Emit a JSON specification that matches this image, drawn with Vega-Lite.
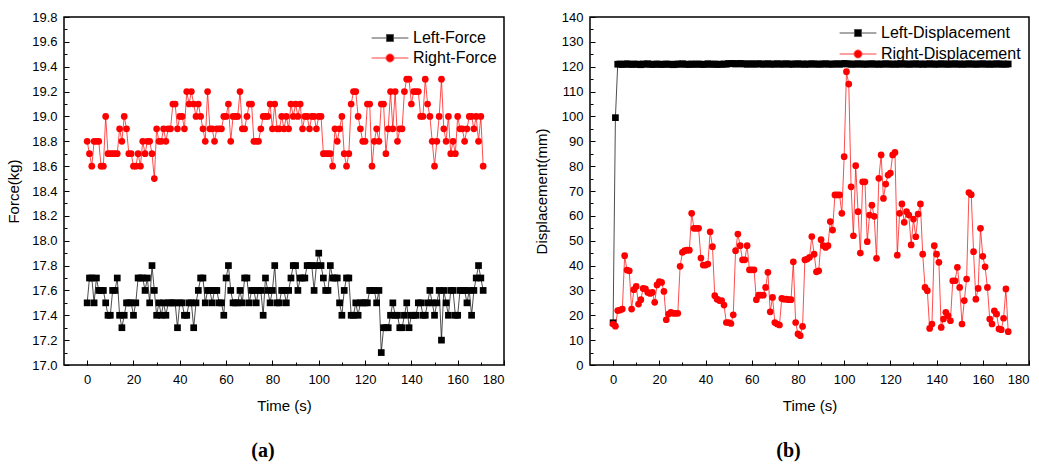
{
"$schema": "https://vega.github.io/schema/vega-lite/v6.json",
"padding": {"left": 5, "top": 10, "right": 0, "bottom": 0},
"background": "white",
"config": {"font": "Liberation Sans", "view": {"stroke": "black", "strokeWidth": 1.5},
  "axis": {"grid": false, "domain": false, "tickColor": "black", "tickWidth": 1, "labelColor": "black", "labelFontSize": 13, "labelFont": "Liberation Sans", "titleFont": "Liberation Sans", "titleFontSize": 15, "titleFontWeight": "normal", "titleColor": "black"}},
"resolve": {"scale": {"color": "independent", "shape": "independent", "stroke": "independent"}, "legend": {"color": "independent", "shape": "independent", "stroke": "independent"}},
"datasets": {
"force": [
{"t":0,"Left-Force":17.5,"Right-Force":18.8},{"t":1,"Left-Force":17.7,"Right-Force":18.7},{"t":2,"Left-Force":17.7,"Right-Force":18.6},{"t":3,"Left-Force":17.5,"Right-Force":18.8},{"t":4,"Left-Force":17.7,"Right-Force":18.8},{"t":5,"Left-Force":17.6,"Right-Force":18.8},{"t":6,"Left-Force":17.6,"Right-Force":18.6},{"t":7,"Left-Force":17.6,"Right-Force":18.6},{"t":8,"Left-Force":17.5,"Right-Force":19.0},{"t":9,"Left-Force":17.4,"Right-Force":18.7},
{"t":10,"Left-Force":17.4,"Right-Force":18.7},{"t":11,"Left-Force":17.6,"Right-Force":18.7},{"t":12,"Left-Force":17.6,"Right-Force":18.7},{"t":13,"Left-Force":17.7,"Right-Force":18.7},{"t":14,"Left-Force":17.4,"Right-Force":18.9},{"t":15,"Left-Force":17.3,"Right-Force":18.8},{"t":16,"Left-Force":17.4,"Right-Force":19.0},{"t":17,"Left-Force":17.5,"Right-Force":18.9},{"t":18,"Left-Force":17.5,"Right-Force":18.7},{"t":19,"Left-Force":17.5,"Right-Force":18.7},
{"t":20,"Left-Force":17.4,"Right-Force":18.6},{"t":21,"Left-Force":17.5,"Right-Force":18.6},{"t":22,"Left-Force":17.7,"Right-Force":18.7},{"t":23,"Left-Force":17.7,"Right-Force":18.6},{"t":24,"Left-Force":17.7,"Right-Force":18.8},{"t":25,"Left-Force":17.6,"Right-Force":18.7},{"t":26,"Left-Force":17.7,"Right-Force":18.8},{"t":27,"Left-Force":17.5,"Right-Force":18.8},{"t":28,"Left-Force":17.8,"Right-Force":18.7},{"t":29,"Left-Force":17.6,"Right-Force":18.5},
{"t":30,"Left-Force":17.4,"Right-Force":18.9},{"t":31,"Left-Force":17.5,"Right-Force":18.8},{"t":32,"Left-Force":17.4,"Right-Force":18.8},{"t":33,"Left-Force":17.5,"Right-Force":18.9},{"t":34,"Left-Force":17.4,"Right-Force":18.8},{"t":35,"Left-Force":17.5,"Right-Force":18.9},{"t":36,"Left-Force":17.5,"Right-Force":18.9},{"t":37,"Left-Force":17.5,"Right-Force":19.1},{"t":38,"Left-Force":17.5,"Right-Force":19.1},{"t":39,"Left-Force":17.3,"Right-Force":18.9},
{"t":40,"Left-Force":17.5,"Right-Force":19.0},{"t":41,"Left-Force":17.5,"Right-Force":19.0},{"t":42,"Left-Force":17.4,"Right-Force":18.9},{"t":43,"Left-Force":17.4,"Right-Force":19.2},{"t":44,"Left-Force":17.5,"Right-Force":19.1},{"t":45,"Left-Force":17.5,"Right-Force":19.2},{"t":46,"Left-Force":17.3,"Right-Force":19.1},{"t":47,"Left-Force":17.5,"Right-Force":19.0},{"t":48,"Left-Force":17.6,"Right-Force":19.1},{"t":49,"Left-Force":17.7,"Right-Force":19.0},
{"t":50,"Left-Force":17.7,"Right-Force":18.9},{"t":51,"Left-Force":17.5,"Right-Force":18.8},{"t":52,"Left-Force":17.6,"Right-Force":19.2},{"t":53,"Left-Force":17.6,"Right-Force":18.9},{"t":54,"Left-Force":17.5,"Right-Force":18.9},{"t":55,"Left-Force":17.6,"Right-Force":18.8},{"t":56,"Left-Force":17.6,"Right-Force":18.9},{"t":57,"Left-Force":17.5,"Right-Force":18.9},{"t":58,"Left-Force":17.5,"Right-Force":18.9},{"t":59,"Left-Force":17.4,"Right-Force":19.0},
{"t":60,"Left-Force":17.7,"Right-Force":19.0},{"t":61,"Left-Force":17.8,"Right-Force":19.1},{"t":62,"Left-Force":17.6,"Right-Force":18.8},{"t":63,"Left-Force":17.5,"Right-Force":19.0},{"t":64,"Left-Force":17.5,"Right-Force":19.0},{"t":65,"Left-Force":17.5,"Right-Force":19.0},{"t":66,"Left-Force":17.6,"Right-Force":19.2},{"t":67,"Left-Force":17.5,"Right-Force":18.9},{"t":68,"Left-Force":17.7,"Right-Force":18.9},{"t":69,"Left-Force":17.7,"Right-Force":19.0},
{"t":70,"Left-Force":17.5,"Right-Force":19.1},{"t":71,"Left-Force":17.6,"Right-Force":19.1},{"t":72,"Left-Force":17.6,"Right-Force":18.8},{"t":73,"Left-Force":17.5,"Right-Force":18.8},{"t":74,"Left-Force":17.6,"Right-Force":18.8},{"t":75,"Left-Force":17.6,"Right-Force":18.9},{"t":76,"Left-Force":17.4,"Right-Force":19.0},{"t":77,"Left-Force":17.7,"Right-Force":19.0},{"t":78,"Left-Force":17.6,"Right-Force":19.0},{"t":79,"Left-Force":17.5,"Right-Force":19.1},
{"t":80,"Left-Force":17.6,"Right-Force":18.9},{"t":81,"Left-Force":17.8,"Right-Force":19.1},{"t":82,"Left-Force":17.5,"Right-Force":18.9},{"t":83,"Left-Force":17.5,"Right-Force":18.9},{"t":84,"Left-Force":17.6,"Right-Force":19.0},{"t":85,"Left-Force":17.6,"Right-Force":18.9},{"t":86,"Left-Force":17.5,"Right-Force":19.0},{"t":87,"Left-Force":17.6,"Right-Force":18.9},{"t":88,"Left-Force":17.7,"Right-Force":19.1},{"t":89,"Left-Force":17.8,"Right-Force":19.0},
{"t":90,"Left-Force":17.8,"Right-Force":19.1},{"t":91,"Left-Force":17.6,"Right-Force":19.0},{"t":92,"Left-Force":17.7,"Right-Force":19.1},{"t":93,"Left-Force":17.7,"Right-Force":18.9},{"t":94,"Left-Force":17.7,"Right-Force":19.0},{"t":95,"Left-Force":17.8,"Right-Force":19.0},{"t":96,"Left-Force":17.8,"Right-Force":18.9},{"t":97,"Left-Force":17.8,"Right-Force":19.0},{"t":98,"Left-Force":17.6,"Right-Force":19.0},{"t":99,"Left-Force":17.8,"Right-Force":18.9},
{"t":100,"Left-Force":17.9,"Right-Force":19.0},{"t":101,"Left-Force":17.8,"Right-Force":19.0},{"t":102,"Left-Force":17.7,"Right-Force":18.7},{"t":103,"Left-Force":17.6,"Right-Force":18.7},{"t":104,"Left-Force":17.6,"Right-Force":18.7},{"t":105,"Left-Force":17.8,"Right-Force":18.7},{"t":106,"Left-Force":17.7,"Right-Force":18.6},{"t":107,"Left-Force":17.7,"Right-Force":18.9},{"t":108,"Left-Force":17.7,"Right-Force":18.8},{"t":109,"Left-Force":17.5,"Right-Force":18.9},
{"t":110,"Left-Force":17.4,"Right-Force":19.0},{"t":111,"Left-Force":17.6,"Right-Force":18.7},{"t":112,"Left-Force":17.7,"Right-Force":18.6},{"t":113,"Left-Force":17.7,"Right-Force":18.7},{"t":114,"Left-Force":17.4,"Right-Force":19.1},{"t":115,"Left-Force":17.4,"Right-Force":19.2},{"t":116,"Left-Force":17.5,"Right-Force":19.2},{"t":117,"Left-Force":17.4,"Right-Force":19.0},{"t":118,"Left-Force":17.5,"Right-Force":18.9},{"t":119,"Left-Force":17.5,"Right-Force":18.8},
{"t":120,"Left-Force":17.5,"Right-Force":18.8},{"t":121,"Left-Force":17.5,"Right-Force":19.1},{"t":122,"Left-Force":17.6,"Right-Force":19.1},{"t":123,"Left-Force":17.6,"Right-Force":18.6},{"t":124,"Left-Force":17.6,"Right-Force":18.8},{"t":125,"Left-Force":17.5,"Right-Force":18.9},{"t":126,"Left-Force":17.6,"Right-Force":18.8},{"t":127,"Left-Force":17.1,"Right-Force":19.1},{"t":128,"Left-Force":17.3,"Right-Force":19.1},{"t":129,"Left-Force":17.3,"Right-Force":18.7},
{"t":130,"Left-Force":17.3,"Right-Force":18.9},{"t":131,"Left-Force":17.4,"Right-Force":19.2},{"t":132,"Left-Force":17.5,"Right-Force":18.9},{"t":133,"Left-Force":17.4,"Right-Force":19.2},{"t":134,"Left-Force":17.4,"Right-Force":18.8},{"t":135,"Left-Force":17.3,"Right-Force":18.9},{"t":136,"Left-Force":17.3,"Right-Force":18.9},{"t":137,"Left-Force":17.4,"Right-Force":19.2},{"t":138,"Left-Force":17.5,"Right-Force":19.3},{"t":139,"Left-Force":17.3,"Right-Force":19.3},
{"t":140,"Left-Force":17.4,"Right-Force":19.1},{"t":141,"Left-Force":17.4,"Right-Force":19.2},{"t":142,"Left-Force":17.4,"Right-Force":19.2},{"t":143,"Left-Force":17.5,"Right-Force":19.2},{"t":144,"Left-Force":17.5,"Right-Force":19.0},{"t":145,"Left-Force":17.4,"Right-Force":19.0},{"t":146,"Left-Force":17.4,"Right-Force":19.3},{"t":147,"Left-Force":17.5,"Right-Force":19.1},{"t":148,"Left-Force":17.6,"Right-Force":19.0},{"t":149,"Left-Force":17.5,"Right-Force":18.8},
{"t":150,"Left-Force":17.4,"Right-Force":18.6},{"t":151,"Left-Force":17.5,"Right-Force":18.8},{"t":152,"Left-Force":17.6,"Right-Force":19.0},{"t":153,"Left-Force":17.2,"Right-Force":19.3},{"t":154,"Left-Force":17.6,"Right-Force":18.9},{"t":155,"Left-Force":17.5,"Right-Force":18.8},{"t":156,"Left-Force":17.4,"Right-Force":19.0},{"t":157,"Left-Force":17.6,"Right-Force":18.7},{"t":158,"Left-Force":17.6,"Right-Force":18.8},{"t":159,"Left-Force":17.4,"Right-Force":18.7},
{"t":160,"Left-Force":17.4,"Right-Force":19.0},{"t":161,"Left-Force":17.6,"Right-Force":18.9},{"t":162,"Left-Force":17.6,"Right-Force":18.9},{"t":163,"Left-Force":17.6,"Right-Force":18.8},{"t":164,"Left-Force":17.5,"Right-Force":18.9},{"t":165,"Left-Force":17.6,"Right-Force":19.0},{"t":166,"Left-Force":17.4,"Right-Force":19.0},{"t":167,"Left-Force":17.6,"Right-Force":18.9},{"t":168,"Left-Force":17.7,"Right-Force":19.0},{"t":169,"Left-Force":17.8,"Right-Force":18.8},
{"t":170,"Left-Force":17.7,"Right-Force":19.0},{"t":171,"Left-Force":17.6,"Right-Force":18.6}
],
"disp": [
{"t":0,"Left-Displacement":17.0,"Right-Displacement":16.5},{"t":1,"Left-Displacement":99.5,"Right-Displacement":15.6},{"t":2,"Left-Displacement":121.0,"Right-Displacement":21.9},{"t":3,"Left-Displacement":121.1,"Right-Displacement":22.1},{"t":4,"Left-Displacement":120.9,"Right-Displacement":22.5},{"t":5,"Left-Displacement":121.0,"Right-Displacement":44.0},{"t":6,"Left-Displacement":121.2,"Right-Displacement":38.2},{"t":7,"Left-Displacement":121.0,"Right-Displacement":37.9},{"t":8,"Left-Displacement":120.9,"Right-Displacement":22.5},{"t":9,"Left-Displacement":121.1,"Right-Displacement":30.3},
{"t":10,"Left-Displacement":121.0,"Right-Displacement":31.6},{"t":11,"Left-Displacement":121.0,"Right-Displacement":24.5},{"t":12,"Left-Displacement":120.8,"Right-Displacement":26.3},{"t":13,"Left-Displacement":121.1,"Right-Displacement":30.8},{"t":14,"Left-Displacement":121.0,"Right-Displacement":30.6},{"t":15,"Left-Displacement":121.2,"Right-Displacement":29.2},{"t":16,"Left-Displacement":121.0,"Right-Displacement":28.8},{"t":17,"Left-Displacement":120.9,"Right-Displacement":29.2},{"t":18,"Left-Displacement":121.0,"Right-Displacement":25.2},{"t":19,"Left-Displacement":121.1,"Right-Displacement":32.2},
{"t":20,"Left-Displacement":121.0,"Right-Displacement":33.5},{"t":21,"Left-Displacement":120.9,"Right-Displacement":33.2},{"t":22,"Left-Displacement":121.0,"Right-Displacement":29.6},{"t":23,"Left-Displacement":121.1,"Right-Displacement":18.2},{"t":24,"Left-Displacement":121.0,"Right-Displacement":20.5},{"t":25,"Left-Displacement":121.0,"Right-Displacement":21.2},{"t":26,"Left-Displacement":120.8,"Right-Displacement":20.8},{"t":27,"Left-Displacement":121.0,"Right-Displacement":20.8},{"t":28,"Left-Displacement":121.1,"Right-Displacement":20.8},{"t":29,"Left-Displacement":121.0,"Right-Displacement":39.7},
{"t":30,"Left-Displacement":121.2,"Right-Displacement":45.3},{"t":31,"Left-Displacement":121.0,"Right-Displacement":46.0},{"t":32,"Left-Displacement":121.0,"Right-Displacement":46.2},{"t":33,"Left-Displacement":120.9,"Right-Displacement":46.2},{"t":34,"Left-Displacement":121.1,"Right-Displacement":61.0},{"t":35,"Left-Displacement":121.0,"Right-Displacement":55.0},{"t":36,"Left-Displacement":121.0,"Right-Displacement":55.0},{"t":37,"Left-Displacement":121.1,"Right-Displacement":55.0},{"t":38,"Left-Displacement":121.0,"Right-Displacement":43.0},{"t":39,"Left-Displacement":120.9,"Right-Displacement":40.2},
{"t":40,"Left-Displacement":121.0,"Right-Displacement":40.2},{"t":41,"Left-Displacement":121.2,"Right-Displacement":40.6},{"t":42,"Left-Displacement":121.0,"Right-Displacement":53.6},{"t":43,"Left-Displacement":121.0,"Right-Displacement":47.6},{"t":44,"Left-Displacement":121.1,"Right-Displacement":27.9},{"t":45,"Left-Displacement":120.9,"Right-Displacement":26.5},{"t":46,"Left-Displacement":121.0,"Right-Displacement":25.9},{"t":47,"Left-Displacement":121.0,"Right-Displacement":25.9},{"t":48,"Left-Displacement":121.1,"Right-Displacement":24.1},{"t":49,"Left-Displacement":121.0,"Right-Displacement":17.1},
{"t":50,"Left-Displacement":121.3,"Right-Displacement":17.1},{"t":51,"Left-Displacement":121.2,"Right-Displacement":16.7},{"t":52,"Left-Displacement":121.3,"Right-Displacement":20.2},{"t":53,"Left-Displacement":121.1,"Right-Displacement":46.0},{"t":54,"Left-Displacement":121.2,"Right-Displacement":52.7},{"t":55,"Left-Displacement":121.3,"Right-Displacement":48.0},{"t":56,"Left-Displacement":121.1,"Right-Displacement":42.3},{"t":57,"Left-Displacement":121.2,"Right-Displacement":42.3},{"t":58,"Left-Displacement":121.0,"Right-Displacement":48.0},{"t":59,"Left-Displacement":121.1,"Right-Displacement":38.3},
{"t":60,"Left-Displacement":121.2,"Right-Displacement":38.3},{"t":61,"Left-Displacement":121.0,"Right-Displacement":38.3},{"t":62,"Left-Displacement":121.1,"Right-Displacement":26.3},{"t":63,"Left-Displacement":121.2,"Right-Displacement":28.1},{"t":64,"Left-Displacement":121.1,"Right-Displacement":28.1},{"t":65,"Left-Displacement":121.0,"Right-Displacement":28.1},{"t":66,"Left-Displacement":121.1,"Right-Displacement":31.2},{"t":67,"Left-Displacement":121.2,"Right-Displacement":37.3},{"t":68,"Left-Displacement":121.0,"Right-Displacement":21.4},{"t":69,"Left-Displacement":121.1,"Right-Displacement":27.2},
{"t":70,"Left-Displacement":121.0,"Right-Displacement":17.1},{"t":71,"Left-Displacement":121.2,"Right-Displacement":16.5},{"t":72,"Left-Displacement":121.1,"Right-Displacement":16.1},{"t":73,"Left-Displacement":121.0,"Right-Displacement":26.8},{"t":74,"Left-Displacement":121.1,"Right-Displacement":26.5},{"t":75,"Left-Displacement":121.2,"Right-Displacement":26.5},{"t":76,"Left-Displacement":121.0,"Right-Displacement":26.3},{"t":77,"Left-Displacement":121.1,"Right-Displacement":26.3},{"t":78,"Left-Displacement":121.0,"Right-Displacement":41.5},{"t":79,"Left-Displacement":121.1,"Right-Displacement":17.1},
{"t":80,"Left-Displacement":121.2,"Right-Displacement":12.5},{"t":81,"Left-Displacement":121.0,"Right-Displacement":11.8},{"t":82,"Left-Displacement":121.1,"Right-Displacement":15.5},{"t":83,"Left-Displacement":121.0,"Right-Displacement":42.3},{"t":84,"Left-Displacement":121.1,"Right-Displacement":42.6},{"t":85,"Left-Displacement":121.0,"Right-Displacement":43.3},{"t":86,"Left-Displacement":121.2,"Right-Displacement":51.7},{"t":87,"Left-Displacement":121.1,"Right-Displacement":44.6},{"t":88,"Left-Displacement":121.0,"Right-Displacement":37.5},{"t":89,"Left-Displacement":121.1,"Right-Displacement":37.9},
{"t":90,"Left-Displacement":121.0,"Right-Displacement":50.4},{"t":91,"Left-Displacement":121.1,"Right-Displacement":48.0},{"t":92,"Left-Displacement":121.2,"Right-Displacement":47.3},{"t":93,"Left-Displacement":121.0,"Right-Displacement":48.0},{"t":94,"Left-Displacement":121.1,"Right-Displacement":57.7},{"t":95,"Left-Displacement":121.0,"Right-Displacement":54.3},{"t":96,"Left-Displacement":121.1,"Right-Displacement":68.4},{"t":97,"Left-Displacement":121.2,"Right-Displacement":68.4},{"t":98,"Left-Displacement":121.0,"Right-Displacement":68.4},{"t":99,"Left-Displacement":121.1,"Right-Displacement":61.0},
{"t":100,"Left-Displacement":121.3,"Right-Displacement":83.8},{"t":101,"Left-Displacement":121.2,"Right-Displacement":118.0},{"t":102,"Left-Displacement":121.1,"Right-Displacement":113.0},{"t":103,"Left-Displacement":121.0,"Right-Displacement":71.7},{"t":104,"Left-Displacement":121.1,"Right-Displacement":52.0},{"t":105,"Left-Displacement":121.0,"Right-Displacement":80.2},{"t":106,"Left-Displacement":121.2,"Right-Displacement":61.7},{"t":107,"Left-Displacement":121.1,"Right-Displacement":45.0},{"t":108,"Left-Displacement":121.0,"Right-Displacement":73.7},{"t":109,"Left-Displacement":121.1,"Right-Displacement":73.7},
{"t":110,"Left-Displacement":121.0,"Right-Displacement":49.6},{"t":111,"Left-Displacement":121.1,"Right-Displacement":60.3},{"t":112,"Left-Displacement":121.2,"Right-Displacement":64.3},{"t":113,"Left-Displacement":121.0,"Right-Displacement":59.8},{"t":114,"Left-Displacement":121.1,"Right-Displacement":42.9},{"t":115,"Left-Displacement":121.0,"Right-Displacement":75.1},{"t":116,"Left-Displacement":121.1,"Right-Displacement":84.5},{"t":117,"Left-Displacement":121.0,"Right-Displacement":67.0},{"t":118,"Left-Displacement":121.2,"Right-Displacement":72.8},{"t":119,"Left-Displacement":121.1,"Right-Displacement":76.4},
{"t":120,"Left-Displacement":121.0,"Right-Displacement":77.2},{"t":121,"Left-Displacement":121.1,"Right-Displacement":84.5},{"t":122,"Left-Displacement":121.0,"Right-Displacement":85.5},{"t":123,"Left-Displacement":121.1,"Right-Displacement":44.2},{"t":124,"Left-Displacement":121.0,"Right-Displacement":61.0},{"t":125,"Left-Displacement":121.2,"Right-Displacement":64.8},{"t":126,"Left-Displacement":121.1,"Right-Displacement":57.4},{"t":127,"Left-Displacement":121.0,"Right-Displacement":61.7},{"t":128,"Left-Displacement":121.1,"Right-Displacement":60.3},{"t":129,"Left-Displacement":121.0,"Right-Displacement":48.3},
{"t":130,"Left-Displacement":121.1,"Right-Displacement":58.7},{"t":131,"Left-Displacement":121.2,"Right-Displacement":51.6},{"t":132,"Left-Displacement":121.0,"Right-Displacement":60.7},{"t":133,"Left-Displacement":121.1,"Right-Displacement":64.8},{"t":134,"Left-Displacement":121.0,"Right-Displacement":44.6},{"t":135,"Left-Displacement":121.1,"Right-Displacement":31.2},{"t":136,"Left-Displacement":121.0,"Right-Displacement":29.9},{"t":137,"Left-Displacement":121.2,"Right-Displacement":14.7},{"t":138,"Left-Displacement":121.1,"Right-Displacement":16.5},{"t":139,"Left-Displacement":121.0,"Right-Displacement":48.0},
{"t":140,"Left-Displacement":121.1,"Right-Displacement":44.6},{"t":141,"Left-Displacement":121.0,"Right-Displacement":41.3},{"t":142,"Left-Displacement":121.2,"Right-Displacement":15.1},{"t":143,"Left-Displacement":121.1,"Right-Displacement":18.5},{"t":144,"Left-Displacement":121.0,"Right-Displacement":21.2},{"t":145,"Left-Displacement":121.1,"Right-Displacement":19.8},{"t":146,"Left-Displacement":121.0,"Right-Displacement":17.8},{"t":147,"Left-Displacement":121.1,"Right-Displacement":33.9},{"t":148,"Left-Displacement":121.2,"Right-Displacement":33.9},{"t":149,"Left-Displacement":121.0,"Right-Displacement":39.3},
{"t":150,"Left-Displacement":121.1,"Right-Displacement":31.2},{"t":151,"Left-Displacement":121.0,"Right-Displacement":16.5},{"t":152,"Left-Displacement":121.1,"Right-Displacement":25.9},{"t":153,"Left-Displacement":121.0,"Right-Displacement":34.6},{"t":154,"Left-Displacement":121.2,"Right-Displacement":69.4},{"t":155,"Left-Displacement":121.1,"Right-Displacement":68.5},{"t":156,"Left-Displacement":121.0,"Right-Displacement":45.6},{"t":157,"Left-Displacement":121.1,"Right-Displacement":26.5},{"t":158,"Left-Displacement":121.0,"Right-Displacement":30.8},{"t":159,"Left-Displacement":121.1,"Right-Displacement":55.0},
{"t":160,"Left-Displacement":121.2,"Right-Displacement":43.7},{"t":161,"Left-Displacement":121.0,"Right-Displacement":39.5},{"t":162,"Left-Displacement":121.1,"Right-Displacement":31.2},{"t":163,"Left-Displacement":121.0,"Right-Displacement":18.5},{"t":164,"Left-Displacement":121.1,"Right-Displacement":16.5},{"t":165,"Left-Displacement":121.0,"Right-Displacement":21.8},{"t":166,"Left-Displacement":121.2,"Right-Displacement":20.5},{"t":167,"Left-Displacement":121.1,"Right-Displacement":14.5},{"t":168,"Left-Displacement":121.0,"Right-Displacement":14.2},{"t":169,"Left-Displacement":121.1,"Right-Displacement":18.8},
{"t":170,"Left-Displacement":121.0,"Right-Displacement":30.6},{"t":171,"Left-Displacement":121.1,"Right-Displacement":13.4}
]
},
"hconcat": [
{
 "width": 440, "height": 348,
 "data": {"name": "force"},
 "transform": [{"fold": ["Left-Force", "Right-Force"], "as": ["series", "value"]}],
 "title": {"text": "(a)", "orient": "bottom", "anchor": "middle", "font": "Liberation Serif", "fontSize": 20, "fontWeight": "bold", "color": "black", "offset": 28, "dx": -21},
 "encoding": {
  "x": {"field": "t", "type": "quantitative", "scale": {"domain": [-10, 180], "nice": false, "zero": false},
   "axis": {"title": "Time (s)", "values": [0,10,20,30,40,50,60,70,80,90,100,110,120,130,140,150,160,170,180], "labelExpr": "datum.value % 20 === 0 ? datum.label : ''", "tickSize": {"condition": {"test": "datum.value % 20 === 0", "value": -5}, "value": -3}, "labelPadding": 13, "titlePadding": 12}},
  "y": {"field": "value", "type": "quantitative", "scale": {"domain": [17.0, 19.8], "nice": false, "zero": false},
   "axis": {"title": "Force(kg)", "values": [17.0,17.1,17.2,17.3,17.4,17.5,17.6,17.7,17.8,17.9,18.0,18.1,18.2,18.3,18.4,18.5,18.6,18.7,18.8,18.9,19.0,19.1,19.2,19.3,19.4,19.5,19.6,19.7,19.8], "labelExpr": "abs(round(datum.value*10)) % 2 === 0 ? format(datum.value, '.1f') : ''", "tickSize": {"condition": {"test": "abs(round(datum.value*10)) % 2 === 0", "value": -5}, "value": -3}, "labelPadding": 12, "titlePadding": 10}}
 },
 "layer": [
  {"transform": [{"filter": "false"}],
   "mark": {"type": "point", "filled": true, "opacity": 1, "strokeWidth": 1},
   "encoding": {
    "color": {"field": "series", "type": "nominal", "scale": {"domain": ["Left-Force", "Right-Force"], "range": ["black", "red"]},
      "legend": {"title": null, "orient": "none", "legendX": 318, "legendY": 13, "labelFontSize": 16, "labelFont": "Liberation Sans", "labelColor": "black", "symbolSize": 225, "symbolStrokeWidth": 1, "labelOffset": 15, "rowPadding": 4, "padding": 0}},
    "stroke": {"field": "series", "type": "nominal", "scale": {"domain": ["Left-Force", "Right-Force"], "range": ["#505050", "#ff4040"]},
      "legend": {"title": null, "orient": "none", "legendX": 318, "legendY": 13, "labelFontSize": 16, "labelFont": "Liberation Sans", "labelColor": "black", "symbolSize": 225, "symbolStrokeWidth": 1, "labelOffset": 15, "rowPadding": 4, "padding": 0}},
    "shape": {"field": "series", "type": "nominal", "scale": {"domain": ["Left-Force", "Right-Force"], "range": ["M-2.45,0H-0.47M0.47,0H2.45M-0.47,-0.47H0.47V0.47H-0.47Z", "M-2.45,0H-0.53M0.53,0H2.45M0.53,0A0.53,0.53 0 1 1 -0.53,0A0.53,0.53 0 1 1 0.53,0Z"]},
      "legend": {"title": null, "orient": "none", "legendX": 318, "legendY": 13, "labelFontSize": 16, "labelFont": "Liberation Sans", "labelColor": "black", "symbolSize": 225, "symbolStrokeWidth": 1, "labelOffset": 15, "rowPadding": 4, "padding": 0}}
   }},
  {"transform": [{"filter": "datum.series === 'Left-Force'"}], "mark": {"type": "line", "color": "black", "strokeWidth": 0.7}, "encoding": {}},
  {"transform": [{"filter": "datum.series === 'Right-Force'"}], "mark": {"type": "line", "color": "red", "strokeWidth": 0.7}, "encoding": {}},
  {"transform": [{"filter": "datum.series === 'Left-Force'"}], "mark": {"type": "point", "shape": "square", "filled": true, "color": "black", "size": 45, "opacity": 1}},
  {"transform": [{"filter": "datum.series === 'Right-Force'"}], "mark": {"type": "point", "shape": "circle", "filled": true, "color": "red", "size": 45, "opacity": 1}}
 ]
},
{
 "width": 439, "height": 348,
 "data": {"name": "disp"},
 "transform": [{"fold": ["Left-Displacement", "Right-Displacement"], "as": ["series", "value"]}],
 "title": {"text": "(b)", "orient": "bottom", "anchor": "middle", "font": "Liberation Serif", "fontSize": 20, "fontWeight": "bold", "color": "black", "offset": 28, "dx": -21},
 "encoding": {
  "x": {"field": "t", "type": "quantitative", "scale": {"domain": [-10, 180], "nice": false, "zero": false},
   "axis": {"title": "Time (s)", "values": [0,10,20,30,40,50,60,70,80,90,100,110,120,130,140,150,160,170,180], "labelExpr": "datum.value % 20 === 0 ? datum.label : ''", "tickSize": {"condition": {"test": "datum.value % 20 === 0", "value": -5}, "value": -3}, "labelPadding": 13, "titlePadding": 12}},
  "y": {"field": "value", "type": "quantitative", "scale": {"domain": [0, 140], "nice": false, "zero": false},
   "axis": {"title": "Displacement(mm)", "values": [0,5,10,15,20,25,30,35,40,45,50,55,60,65,70,75,80,85,90,95,100,105,110,115,120,125,130,135,140], "labelExpr": "datum.value % 10 === 0 ? datum.label : ''", "tickSize": {"condition": {"test": "datum.value % 10 === 0", "value": -5}, "value": -3}, "labelPadding": 12, "titlePadding": 12}}
 },
 "layer": [
  {"transform": [{"filter": "false"}],
   "mark": {"type": "point", "filled": true, "opacity": 1, "strokeWidth": 1},
   "encoding": {
    "color": {"field": "series", "type": "nominal", "scale": {"domain": ["Left-Displacement", "Right-Displacement"], "range": ["black", "red"]},
      "legend": {"title": null, "orient": "none", "legendX": 260, "legendY": 8, "labelFontSize": 16, "labelFont": "Liberation Sans", "labelColor": "black", "symbolSize": 225, "symbolStrokeWidth": 1, "labelOffset": 15, "rowPadding": 5, "padding": 0}},
    "stroke": {"field": "series", "type": "nominal", "scale": {"domain": ["Left-Displacement", "Right-Displacement"], "range": ["#505050", "#ff4040"]},
      "legend": {"title": null, "orient": "none", "legendX": 260, "legendY": 8, "labelFontSize": 16, "labelFont": "Liberation Sans", "labelColor": "black", "symbolSize": 225, "symbolStrokeWidth": 1, "labelOffset": 15, "rowPadding": 5, "padding": 0}},
    "shape": {"field": "series", "type": "nominal", "scale": {"domain": ["Left-Displacement", "Right-Displacement"], "range": ["M-2.45,0H-0.47M0.47,0H2.45M-0.47,-0.47H0.47V0.47H-0.47Z", "M-2.45,0H-0.53M0.53,0H2.45M0.53,0A0.53,0.53 0 1 1 -0.53,0A0.53,0.53 0 1 1 0.53,0Z"]},
      "legend": {"title": null, "orient": "none", "legendX": 260, "legendY": 8, "labelFontSize": 16, "labelFont": "Liberation Sans", "labelColor": "black", "symbolSize": 225, "symbolStrokeWidth": 1, "labelOffset": 15, "rowPadding": 5, "padding": 0}}
   }},
  {"transform": [{"filter": "datum.series === 'Left-Displacement'"}], "mark": {"type": "line", "color": "black", "strokeWidth": 0.7}, "encoding": {}},
  {"transform": [{"filter": "datum.series === 'Right-Displacement'"}], "mark": {"type": "line", "color": "red", "strokeWidth": 0.7}, "encoding": {}},
  {"transform": [{"filter": "datum.series === 'Left-Displacement'"}], "mark": {"type": "point", "shape": "square", "filled": true, "color": "black", "size": 45, "opacity": 1}},
  {"transform": [{"filter": "datum.series === 'Right-Displacement'"}], "mark": {"type": "point", "shape": "circle", "filled": true, "color": "red", "size": 45, "opacity": 1}}
 ]
}
],
"spacing": 27
}
